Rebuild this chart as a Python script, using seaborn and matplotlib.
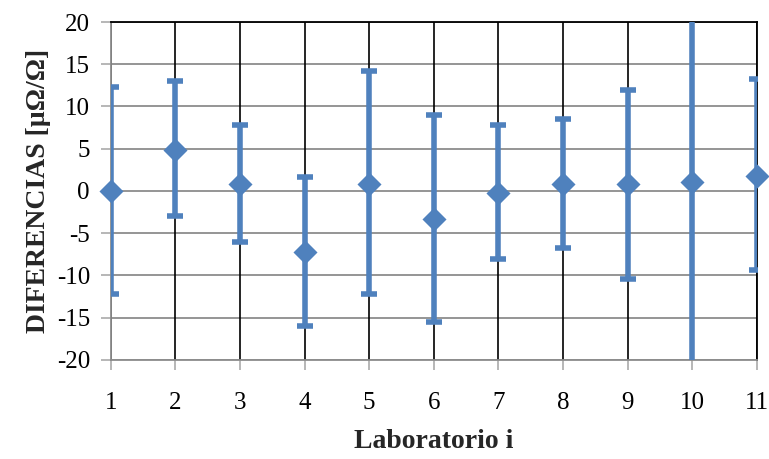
import matplotlib
matplotlib.use("Agg")
import matplotlib.pyplot as plt
import seaborn as sns
import pandas as pd
import numpy as np

labs = [1, 2, 3, 4, 5, 6, 7, 8, 9, 10, 11]
diferencias = [0.0, 4.9, 0.8, -7.2, 0.8, -3.3, -0.2, 0.8, 0.8, 1.0, 1.8]
err_upper = [12.3, 8.1, 7.0, 8.9, 13.4, 12.3, 8.0, 7.7, 11.2, 25.0, 11.4]
err_lower = [12.2, 7.9, 6.9, 8.8, 13.0, 12.2, 7.8, 7.6, 11.2, 25.0, 11.2]
yticks = [-20, -15, -10, -5, 0, 5, 10, 15, 20]

df = pd.DataFrame({"lab": labs, "dif": diferencias})

sns.set_theme(style="white")
plt.rcParams["font.family"] = ["Liberation Serif", "DejaVu Serif"]

color = "#4F81BD"
fig = plt.figure(figsize=(7.69, 4.59), dpi=100)
ax = fig.add_axes([0.144, 0.216, 0.840, 0.736])

ax.errorbar(labs, diferencias, yerr=[err_lower, err_upper], fmt="none",
            ecolor=color, elinewidth=4, capsize=6, capthick=4, zorder=3)
sns.scatterplot(data=df, x="lab", y="dif", marker="D", s=150, color=color,
                edgecolor=color, linewidth=0, ax=ax, zorder=4, clip_on=False)

ax.set_xlim(1, 11)
ax.set_ylim(-20, 20)
ax.set_xticks(labs)
ax.set_yticks(yticks)
ax.set_xticklabels([str(v) for v in labs], fontsize=18)
ax.set_yticklabels([str(v) for v in yticks], fontsize=18)

for y in yticks:
    ax.axhline(y, color="#8c8c8c", lw=1.3, zorder=1)
for x in labs:
    ax.axvline(x, color="black", lw=1.2, zorder=1)

for side in ["left", "bottom"]:
    ax.spines[side].set_color("#8c8c8c")
    ax.spines[side].set_linewidth(1.3)
for side in ["top", "right"]:
    ax.spines[side].set_color("black")
    ax.spines[side].set_linewidth(1.3)

ax.tick_params(axis="both", direction="out", length=7, color="#aaaaaa",
               width=1.2, labelcolor="black")
ax.tick_params(axis="y", pad=8)
ax.tick_params(axis="x", pad=16)
ax.tick_params(left=True, bottom=True)

ax.set_xlabel("Laboratorio i", fontsize=20, fontweight="bold", labelpad=11)
ax.set_ylabel("DIFERENCIAS [µΩ/Ω]", fontsize=20, fontweight="bold", labelpad=4)

fig.savefig("out.png", dpi=100)
